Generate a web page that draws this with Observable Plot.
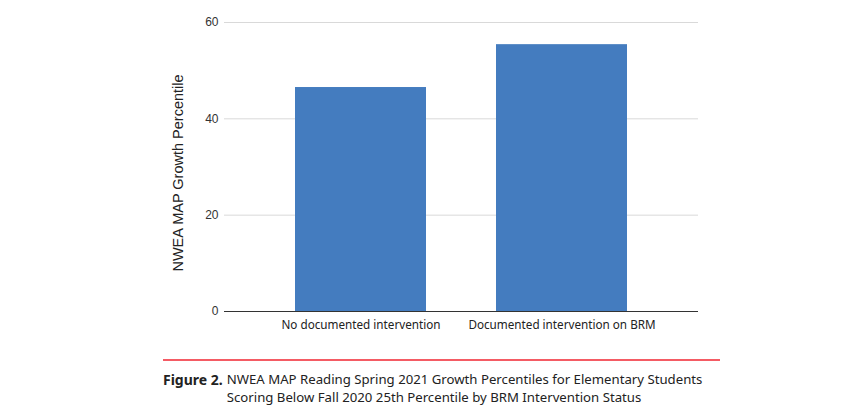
<!DOCTYPE html>
<html><head><meta charset="utf-8">
<script src="https://cdn.jsdelivr.net/npm/d3@7"></script>
<script src="https://cdn.jsdelivr.net/npm/@observablehq/plot@0.6"></script>
<style>
body{margin:0;background:#fff;width:855px;height:419px;overflow:hidden;}
#chart{position:absolute;left:0;top:0;}
#rule{position:absolute;left:163px;top:359px;width:557px;height:2px;background:#f45b64;}
#cap{position:absolute;left:163px;top:371px;font-family:"Noto Sans",sans-serif;font-size:13.2px;color:#222;display:flex;line-height:17.5px;}
#cap b{font-weight:700;font-size:14px;margin-right:4px;white-space:nowrap;}
</style></head><body>
<div id="chart"></div>
<div id="rule"></div>
<div id="cap"><b>Figure 2.</b><span>NWEA MAP Reading Spring 2021 Growth Percentiles for Elementary Students<br>Scoring Below Fall 2020 25th Percentile by BRM Intervention Status</span></div>
<script>
const categories = ["No documented intervention", "Documented intervention on BRM"];
const values = [46.5, 55.4];
const yTicks = [0, 20, 40, 60];
const data = categories.map((c, i) => ({category: c, value: values[i]}));

const chart = Plot.plot({
  width: 855,
  height: 345,
  marginLeft: 224,
  marginRight: 157,
  marginTop: 22,
  marginBottom: 34,
  style: {fontFamily: "Liberation Sans, Arial, sans-serif", fontSize: "12px", color: "#333"},
  x: {domain: categories, padding: 0.35, label: null},
  y: {domain: [0, 60], ticks: yTicks, label: null},
  marks: [
    Plot.gridY(yTicks.filter(d => d !== 0), {stroke: "#d9d9d9", strokeOpacity: 1, strokeWidth: 1}),
    Plot.barY(data, {x: "category", y: "value", fill: "#447cbf"}),
    Plot.ruleY([0], {stroke: "#333", strokeWidth: 1}),
    Plot.axisY(yTicks, {tickSize: 0, tickPadding: 6, fontSize: 12, fill: "#333", label: null}),
    Plot.axisX({tickSize: 0, tickPadding: 9, fontSize: 11.7, fontFamily: "Noto Sans, sans-serif", fill: "#222", label: null}),
    Plot.text(["NWEA MAP Growth Percentile"], {frameAnchor: "left", textAnchor: "middle", dx: -46, dy: 6, rotate: -90, fontSize: 14.5, fill: "#222", text: d => d})
  ]
});
document.getElementById("chart").appendChild(chart);
</script>
</body></html>
